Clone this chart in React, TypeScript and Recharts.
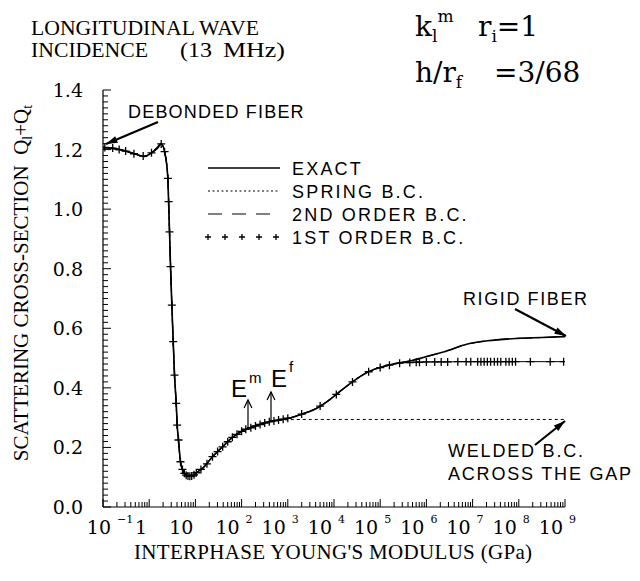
import React from 'react'
import { LineChart, Line, XAxis, YAxis, Legend } from 'recharts'

// x = log10 of the interphase Young's modulus (GPa), q = Ql + Qt
const exactLogE = [-1, -0.8, -0.6, -0.4, -0.2, -0.1, 0.05, 0.18, 0.26, 0.333, 0.404, 0.42, 0.44, 0.462, 0.49, 0.52, 0.548, 0.585, 0.606, 0.634, 0.677, 0.72, 0.763, 0.82, 0.88, 0.95, 1.02, 1.157, 1.372, 1.587, 1.802, 2.09, 2.35, 2.59, 2.8, 3.02, 3.31, 3.6, 3.88, 4.17, 4.49, 4.74, 5.1, 5.42, 5.67, 6.0, 6.39, 6.89, 7.32, 7.97, 8.5, 9]
const exactQ = [1.207, 1.204, 1.199, 1.19, 1.18, 1.177, 1.189, 1.205, 1.219, 1.193, 1.103, 1.025, 0.924, 0.807, 0.678, 0.555, 0.443, 0.348, 0.275, 0.225, 0.152, 0.126, 0.113, 0.106, 0.103, 0.106, 0.115, 0.13, 0.169, 0.202, 0.234, 0.261, 0.275, 0.286, 0.292, 0.298, 0.312, 0.329, 0.357, 0.393, 0.43, 0.454, 0.473, 0.484, 0.491, 0.505, 0.521, 0.547, 0.558, 0.566, 0.569, 0.572]

const springLogE = [-1, -0.4, -0.1, 0.05, 0.26, 0.333, 0.404, 0.44, 0.49, 0.548, 0.606, 0.677, 0.763, 0.88, 1.02, 1.372, 1.802, 2.09, 2.59, 3.0, 3.5, 4, 5, 6, 7, 8, 9]
const springQ = [1.207, 1.19, 1.177, 1.189, 1.219, 1.193, 1.103, 0.924, 0.678, 0.443, 0.275, 0.152, 0.113, 0.103, 0.115, 0.169, 0.234, 0.261, 0.286, 0.293, 0.294, 0.294, 0.294, 0.294, 0.294, 0.294, 0.294]

// 2nd order b.c. cannot be told apart from the exact curve at this scale
const secondLogE = exactLogE
const secondQ = exactQ

const firstLogE = [-0.96, -0.79, -0.65, -0.51, -0.33, -0.13, 0.05, 0.26, 0.333, 0.404, 0.42, 0.44, 0.462, 0.49, 0.52, 0.548, 0.585, 0.606, 0.634, 0.677, 0.72, 0.76, 0.8, 0.84, 0.88, 0.92, 0.97, 1.02, 1.12, 1.25, 1.37, 1.48, 1.59, 1.7, 1.8, 1.9, 2.0, 2.09, 2.2, 2.3, 2.4, 2.5, 2.6, 2.7, 2.8, 2.9, 3.0, 3.3, 3.7, 4.05, 4.4, 4.75, 5.0, 5.2, 5.42, 5.64, 5.78, 5.85, 6.0, 6.18, 6.32, 6.46, 6.68, 6.86, 6.96, 7.11, 7.18, 7.25, 7.32, 7.39, 7.47, 7.54, 7.61, 7.72, 7.79, 7.86, 7.93, 8.25, 8.68, 8.97]
const firstQ = [1.207, 1.205, 1.2, 1.195, 1.186, 1.178, 1.189, 1.219, 1.193, 1.103, 1.025, 0.924, 0.807, 0.678, 0.555, 0.443, 0.348, 0.275, 0.225, 0.152, 0.126, 0.113, 0.107, 0.104, 0.103, 0.104, 0.108, 0.115, 0.126, 0.145, 0.169, 0.186, 0.202, 0.219, 0.234, 0.244, 0.254, 0.261, 0.266, 0.272, 0.277, 0.282, 0.286, 0.289, 0.292, 0.295, 0.298, 0.312, 0.339, 0.378, 0.42, 0.454, 0.468, 0.476, 0.483, 0.485, 0.486, 0.486, 0.487, 0.487, 0.487, 0.487, 0.488, 0.488, 0.488, 0.488, 0.488, 0.488, 0.488, 0.488, 0.488, 0.488, 0.488, 0.488, 0.488, 0.488, 0.488, 0.488, 0.488, 0.488]

const SERIES_NAMES = ['EXACT', 'SPRING B.C.', '2ND ORDER B.C.', '1ST ORDER B.C.']

const DECADES = [-1, 0, 1, 2, 3, 4, 5, 6, 7, 8, 9]
const MINOR = [2, 3, 4, 5, 6, 7, 8, 9]
const Y_LABELS = ['0.0', '0.2', '0.4', '0.6', '0.8', '1.0', '1.2', '1.4']

const X_TICKS: number[] = []
DECADES.forEach((d) => {
  X_TICKS.push(d)
  if (d < 9) MINOR.forEach((m) => X_TICKS.push(d + Math.log10(m)))
})
const Y_TICKS: number[] = []
for (let i = 0; i <= 70; i++) Y_TICKS.push(i / 50)

const toRows = (xs: number[], qs: number[]) => xs.map((x, i) => ({ x, q: qs[i] }))
const exactData = toRows(exactLogE, exactQ)
const springData = toRows(springLogE, springQ)
const secondData = toRows(secondLogE, secondQ)
const firstData = toRows(firstLogE, firstQ)

const SERIF = '"Liberation Serif", serif'
const WIDE_SERIF = '"DejaVu Serif", serif'
const SANS = '"Liberation Sans", sans-serif'

const XTick = (props: any) => {
  const { x, y, payload } = props
  const v = payload.value
  const e = Math.round(v)
  if (Math.abs(v - e) > 1e-6) return <line x1={x} x2={x} y1={y} y2={y - 5} stroke="#000" />
  const shift = e === -1 ? 10 : 0
  return (
    <g>
      <line x1={x} x2={x} y1={y} y2={y - 8} stroke="#000" />
      <text x={x - 2 + shift} y={y + 27} textAnchor="end" fontFamily={WIDE_SERIF} fontSize={19} fill="#000">
        {e === 0 ? '1' : '10'}
      </text>
      {e !== 0 && e !== 1 && (
        <text x={x + 4 + shift} y={y + 16} fontFamily={WIDE_SERIF} fontSize={11} fill="#000">
          {e === -1 ? '\u2212' + '1' : String(e)}
        </text>
      )}
    </g>
  )
}

const YTick = (props: any) => {
  const { x, y, payload } = props
  const k = Math.round(payload.value * 50)
  const major = k % 10 === 0
  return (
    <g>
      <line x1={x} x2={x + (major ? 8 : 5)} y1={y} y2={y} stroke="#000" />
      {major && (
        <text x={x - 20} y={y + 7} textAnchor="end" fontFamily={WIDE_SERIF} fontSize={19} fill="#000">
          {Y_LABELS[k / 10]}
        </text>
      )}
    </g>
  )
}

const Plus = ({ cx, cy, s = 4 }: { cx: number; cy: number; s?: number }) => (
  <path d={`M${cx - s},${cy}h${2 * s}M${cx},${cy - s}v${2 * s}`} stroke="#000" strokeWidth={1.3} fill="none" />
)

const LegendBox = () => (
  <svg width={320} height={100}>
    {SERIES_NAMES.map((name, i) => {
      const cy = 16 + i * 23
      return (
        <g key={name}>
          {i === 0 && <line x1={8} x2={80} y1={cy} y2={cy} stroke="#000" strokeWidth={1.4} />}
          {i === 1 && <line x1={8} x2={80} y1={cy} y2={cy} stroke="#000" strokeWidth={1} strokeDasharray="2 2.5" />}
          {i === 2 && <line x1={8} x2={80} y1={cy} y2={cy} stroke="#000" strokeWidth={1.2} strokeDasharray="14 10" />}
          {i === 3 && [8, 25, 42, 59, 76].map((px) => <Plus key={px} cx={px} cy={cy} s={3} />)}
          <text x={92} y={cy + 7} fontFamily={SANS} fontSize={18} letterSpacing={2.2} fill="#000">
            {name}
          </text>
        </g>
      )
    })}
  </svg>
)

const Arrow = ({ x1, y1, x2, y2, head = 12, open = false }: any) => {
  const a = Math.atan2(y2 - y1, x2 - x1)
  const w = open ? 0.45 : 0.3
  const p1 = `${x2 - head * Math.cos(a - w)},${y2 - head * Math.sin(a - w)}`
  const p2 = `${x2 - head * Math.cos(a + w)},${y2 - head * Math.sin(a + w)}`
  return (
    <g>
      <line x1={x1} y1={y1} x2={x2} y2={y2} stroke="#000" strokeWidth={open ? 1.2 : 2.2} />
      {open ? (
        <polyline points={`${p1} ${x2},${y2} ${p2}`} stroke="#000" strokeWidth={1.2} fill="none" />
      ) : (
        <polygon points={`${p1} ${x2},${y2} ${p2}`} fill="#000" />
      )}
    </g>
  )
}

const Annotations = () => (
  <svg width={640} height={581} style={{ position: 'absolute', left: 0, top: 0, pointerEvents: 'none' }}>
    <text x={31} y={35} fontFamily={SERIF} fontSize={21} textLength={228} lengthAdjust="spacingAndGlyphs" fill="#000">LONGITUDINAL WAVE</text>
    <text x={31} y={57} fontFamily={SERIF} fontSize={21} textLength={117} lengthAdjust="spacingAndGlyphs" fill="#000">INCIDENCE</text>
    <text x={180} y={57} fontFamily={SERIF} fontSize={21} textLength={32} lengthAdjust="spacingAndGlyphs" fill="#000">(13</text>
    <text x={223} y={57} fontFamily={SERIF} fontSize={21} textLength={62} lengthAdjust="spacingAndGlyphs" fill="#000">MHz)</text>

    <text x={415} y={36} fontFamily={WIDE_SERIF} fontSize={28} fill="#000">
      k<tspan fontSize={17} dy={6}>l</tspan>
      <tspan fontSize={17} dy={-20}>m</tspan>
    </text>
    <text x={478} y={36} fontFamily={WIDE_SERIF} fontSize={28} fill="#000">
      r<tspan fontSize={17} dy={6}>i</tspan>
      <tspan dy={-6}>=1</tspan>
    </text>
    <text x={415} y={82} fontFamily={WIDE_SERIF} fontSize={28} fill="#000">
      h/r<tspan fontSize={17} dy={6}>f</tspan>
    </text>
    <text x={494} y={82} fontFamily={WIDE_SERIF} fontSize={28} fill="#000">=3/68</text>

    <text transform="translate(28,283) rotate(-90)" textAnchor="middle" fontFamily={SERIF} fontSize={21} fill="#000">
      {'SCATTERING CROSS-SECTION\u00a0\u00a0Q'}
      <tspan fontSize={14} dy={4}>l</tspan>
      <tspan dy={-4}>+Q</tspan>
      <tspan fontSize={14} dy={4}>t</tspan>
    </text>
    <text x={333} y={559} textAnchor="middle" fontFamily={SERIF} fontSize={21} textLength={398} lengthAdjust="spacing" fill="#000">
      INTERPHASE YOUNG'S MODULUS (GPa)
    </text>

    <text x={128} y={118} fontFamily={SANS} fontSize={18} letterSpacing={1.2} fill="#000">DEBONDED FIBER</text>
    <Arrow x1={158} y1={122} x2={106} y2={144} />
    <text x={463} y={305} fontFamily={SANS} fontSize={18} letterSpacing={1.6} fill="#000">RIGID FIBER</text>
    <Arrow x1={515} y1={309} x2={566} y2={336} />
    <text x={448} y={457} fontFamily={SANS} fontSize={18} letterSpacing={1.8} fill="#000">WELDED B.C.</text>
    <text x={448} y={480} fontFamily={SANS} fontSize={18} letterSpacing={1.8} fill="#000">ACROSS THE GAP</text>
    <Arrow x1={535} y1={445} x2={565} y2={421} />

    <text x={231} y={397} fontFamily={SANS} fontSize={24} fill="#000">E</text>
    <text x={249} y={383} fontFamily={SANS} fontSize={15} fill="#000">m</text>
    <Arrow x1={248} y1={430} x2={248} y2={400} head={9} open />
    <text x={271} y={387} fontFamily={SANS} fontSize={24} fill="#000">E</text>
    <text x={289} y={372} fontFamily={SANS} fontSize={15} fill="#000">f</text>
    <Arrow x1={271} y1={421} x2={271} y2={392} head={9} open />
  </svg>
)

export default function App() {
  return (
    <div style={{ position: 'absolute', left: 0, top: 0, width: 640, height: 581, background: '#fff' }}>
      <LineChart width={640} height={581} margin={{ top: 90, right: 75, bottom: 0, left: 0 }}>
        <XAxis
          type="number"
          dataKey="x"
          domain={[-1, 9]}
          ticks={X_TICKS}
          interval={0}
          allowDataOverflow
          height={74}
          tickSize={0}
          tickMargin={0}
          tickLine={false}
          axisLine={{ stroke: '#000', strokeWidth: 1.2 }}
          tick={(p: any) => <XTick {...p} />}
        />
        <YAxis
          type="number"
          domain={[0, 1.4]}
          ticks={Y_TICKS}
          interval={0}
          allowDataOverflow
          width={103}
          tickSize={0}
          tickMargin={0}
          tickLine={false}
          axisLine={{ stroke: '#000', strokeWidth: 1.2 }}
          tick={(p: any) => <YTick {...p} />}
        />
        <Legend
          layout="vertical"
          align="center"
          verticalAlign="middle"
          wrapperStyle={{ left: 200, top: 152, width: 320, height: 100 }}
          content={() => <LegendBox />}
        />
        <Line data={springData} dataKey="q" name={SERIES_NAMES[1]} type="monotone" stroke="#000" strokeWidth={1} strokeDasharray="3 3" dot={false} isAnimationActive={false} />
        <Line data={exactData} dataKey="q" name={SERIES_NAMES[0]} type="monotone" stroke="#000" strokeWidth={1.6} dot={false} isAnimationActive={false} />
        <Line data={secondData} dataKey="q" name={SERIES_NAMES[2]} type="monotone" stroke="#000" strokeWidth={1.2} strokeDasharray="14 10" dot={false} isAnimationActive={false} />
        <Line
          data={firstData}
          dataKey="q"
          name={SERIES_NAMES[3]}
          type="monotone"
          stroke="#000"
          strokeWidth={1}
          dot={(p: any) => <Plus key={p.index} cx={p.cx} cy={p.cy} />}
          isAnimationActive={false}
        />
      </LineChart>
      <Annotations />
    </div>
  )
}
